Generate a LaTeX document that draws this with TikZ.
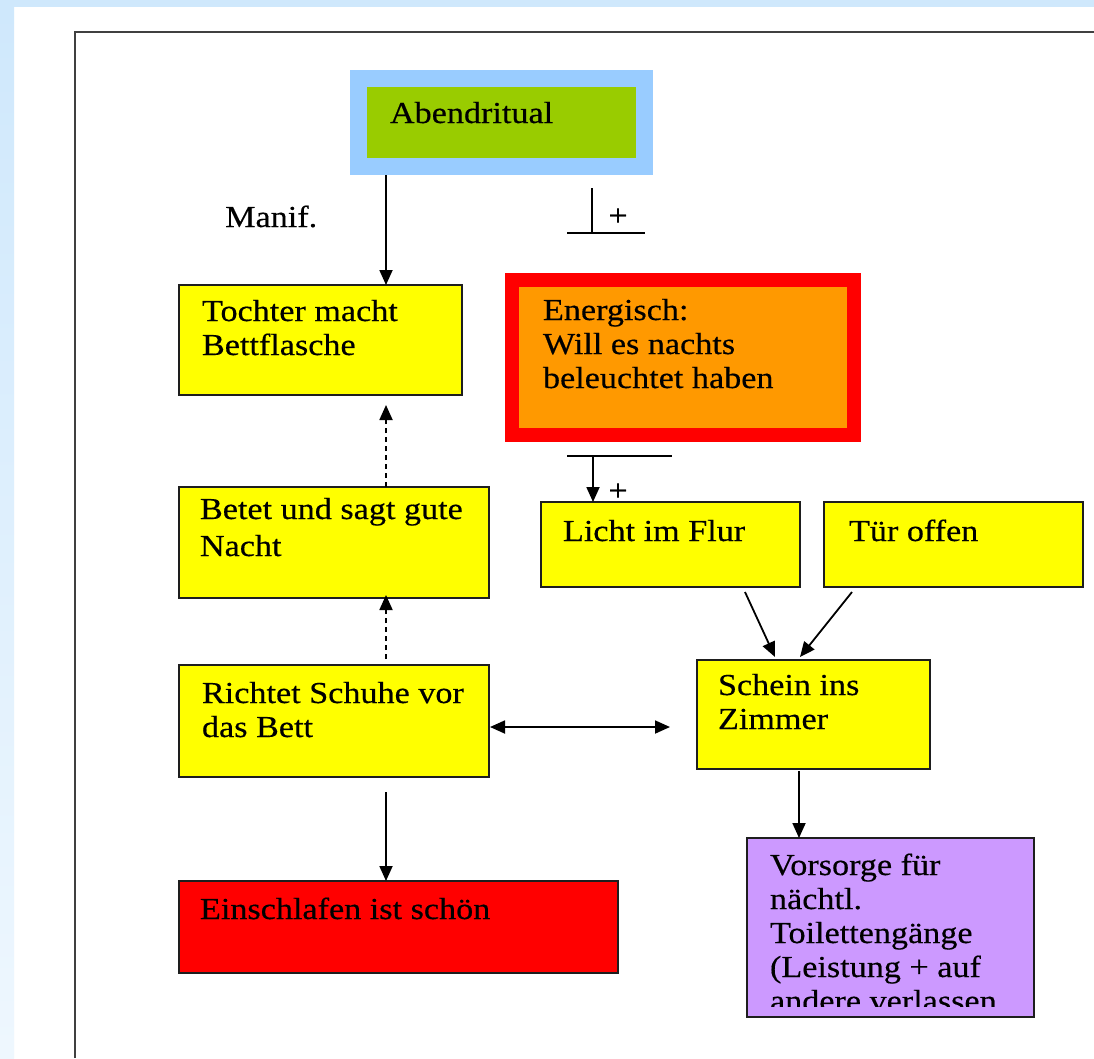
\documentclass[tikz,border=0pt]{standalone}
\usepackage{fontspec}
\setmainfont{Liberation Serif}[FakeStretch=1.12,FakeBold=0.4]
\usetikzlibrary{arrows.meta}
\definecolor{yel}{RGB}{255,255,0}
\definecolor{grn}{RGB}{153,204,0}
\definecolor{lblue}{RGB}{153,204,255}
\definecolor{org}{RGB}{255,153,0}
\definecolor{vio}{RGB}{204,153,255}
\definecolor{bgblue}{RGB}{207,232,252}
\definecolor{edge}{RGB}{30,30,30}
% width, height, first baseline, text, left padding
\newcommand{\bt}[5]{\parbox[c][#2pt][t]{#1pt}{\leftskip=#5pt\rightskip=0pt plus 1fil\parfillskip=0pt plus 1fil\rule{0pt}{#3pt}#4}}
\tikzset{
  box/.style={rectangle, draw=edge, line width=2pt, inner sep=0pt, outer sep=0pt, anchor=north west, font=\fontsize{30.5}{34}\selectfont},
  arr/.style={line width=1.8pt, -{Triangle[length=15pt,width=13pt]}},
  darr/.style={arr, dash pattern=on 5pt off 4pt},
  dblarr/.style={line width=1.8pt, {Triangle[length=15pt,width=13pt]}-{Triangle[length=15pt,width=13pt]}},
  bar/.style={line width=1.8pt},
  lbl/.style={inner sep=0pt, font=\fontsize{30.5}{34}\selectfont}
}
\begin{document}
\begin{tikzpicture}[x=1pt,y=-1pt]
\useasboundingbox (0,0) rectangle (1094,1058);
% background
\fill[bgblue] (0,0) rectangle (1094,1058);
\fill[white] (14,7) rectangle (1094,1058);
\shade[top color=bgblue, bottom color=bgblue!35!white] (0,7) rectangle (14,1058);
\draw[line width=2.5pt, black!75] (75,1058) -- (75,32) -- (1094,32);

% boxes
\node[box, draw=lblue, line width=17pt, outer sep=8.5pt, fill=grn] (abend) at (350,70)
  {\bt{286}{88}{44.5}{Abendritual}{31.5}};
\node[box, draw=red, line width=14pt, outer sep=7pt, fill=org] (energ) at (505,273)
  {\bt{342}{155}{40}{Energisch:\\Will es nachts\\beleuchtet haben}{31}};
\node[box, fill=yel] (tochter) at (179,285) {\bt{283}{110}{36}{Tochter macht\\Bettflasche}{23}};
\node[box, fill=yel] (betet) at (179,487) {\bt{310}{111}{32}{Betet und sagt gute\\[3pt]Nacht}{21}};
\node[box, fill=yel] (richtet) at (179,665) {\bt{310}{112}{38}{Richtet Schuhe vor\\das Bett}{23}};
\node[box, fill=red] (einschl) at (179,881) {\bt{439}{92}{38}{Einschlafen ist schön}{21}};
\node[box, fill=yel] (licht) at (541,502) {\bt{259}{85}{39}{Licht im Flur}{22}};
\node[box, fill=yel] (tuer) at (824,502) {\bt{259}{85}{39}{Tür offen}{25}};
\node[box, fill=yel] (schein) at (697,660) {\bt{233}{109}{35}{Schein ins\\Zimmer}{21}};
\node[box, fill=vio, minimum width=287pt, minimum height=179pt] (vorsorge) at (747,838) {};
\begin{scope}
  \clip (vorsorge.north west) rectangle ([yshift=11pt]vorsorge.south east);
  \node[box, draw=none, anchor=north west] (vorsorgetxt) at (vorsorge.north west)
    {\bt{287}{200}{37}{Vorsorge für\\nächtl.\\Toilettengänge\\(Leistung + auf\\andere verlassen}{23}};
\end{scope}

% labels
\node[lbl, anchor=base west] (manif) at (225,227) {Manif.};
\node[lbl] (plusA) at (618,217) {+};
\node[lbl] (plusB) at (618,492) {+};

% helper coordinates
\coordinate (colA) at (386,0);
\coordinate (colS) at (799,0);
\coordinate (rowD) at (0,727);
\coordinate (tbarL) at (567,233);
\coordinate (tbarR) at (645,233);
\coordinate (tbarM) at (592,233);
\coordinate (tbarT) at (592,188);
\coordinate (hbarL) at (567,456);
\coordinate (hbarR) at (672,456);
\coordinate (hbarM) at (593,456);

% connectors
\draw[arr] (colA |- abend.south) -- (colA |- tochter.north);
\draw[darr, shorten >=10pt] (colA |- betet.north) -- (colA |- tochter.south);
\draw[darr, shorten <=6pt, shorten >=-3pt] (colA |- richtet.north) -- (colA |- betet.south);
\draw[arr, shorten <=15pt] (colA |- richtet.south) -- (colA |- einschl.north);
\draw[dblarr, shorten <=1pt, shorten >=27pt] (rowD -| richtet.east) -- (rowD -| schein.west);
\draw[arr] ([xshift=74.5pt,yshift=-5pt]licht.south) -- ([xshift=-38.5pt,yshift=3pt]schein.north);
\draw[arr] ([xshift=-101.5pt,yshift=-5pt]tuer.south) -- ([xshift=-13.5pt,yshift=3pt]schein.north);
\draw[arr, shorten <=2pt] (colS |- schein.south) -- (colS |- vorsorge.north);
\draw[bar] (tbarL) -- (tbarR);
\draw[bar] (tbarM) -- (tbarT);
\draw[bar] (hbarL) -- (hbarR);
\draw[arr] (hbarM) -- (hbarM |- licht.north);
\end{tikzpicture}
\end{document}
